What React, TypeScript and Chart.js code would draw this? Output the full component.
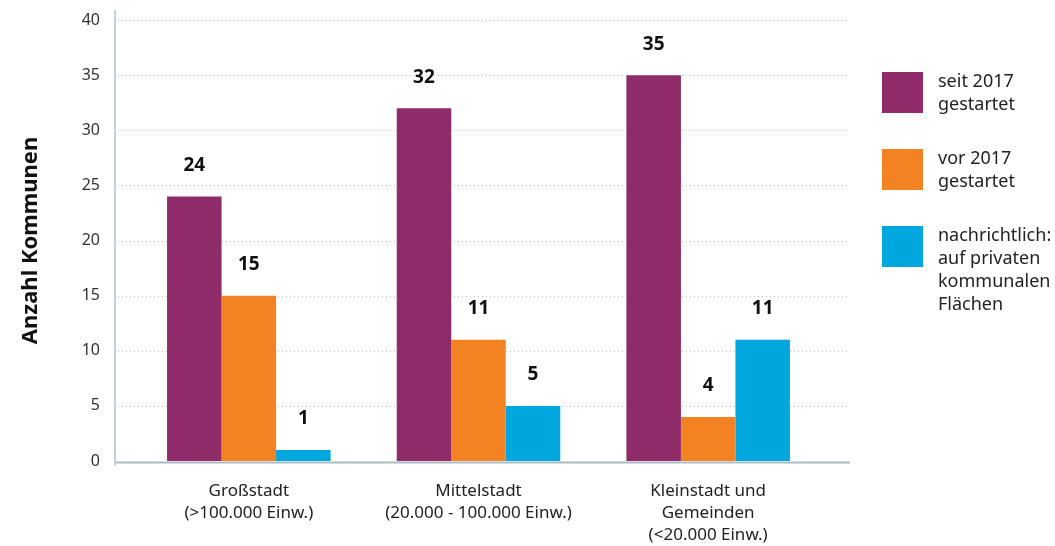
import React, { useEffect, useRef } from "react";
import { Chart, registerables } from "chart.js";

Chart.register(...registerables);

const categories: string[][] = [
  ["Großstadt", "(>100.000 Einw.)"],
  ["Mittelstadt", "(20.000 - 100.000 Einw.)"],
  ["Kleinstadt und", "Gemeinden", "(<20.000 Einw.)"],
];
const seriesLabels: string[][] = [
  ["seit 2017", "gestartet"],
  ["vor 2017", "gestartet"],
  ["nachrichtlich:", "auf privaten", "kommunalen", "Flächen"],
];
const seit2017: number[] = [24, 32, 35];
const vor2017: number[] = [15, 11, 4];
const nachrichtlich: number[] = [1, 5, 11];
const yTicks: number[] = [0, 5, 10, 15, 20, 25, 30, 35, 40];
const yTitle = "Anzahl Kommunen";

const COLORS = ["#8F2B68", "#F38322", "#00A7DE"];
const FONT = "'Noto Sans', sans-serif";

const axesPlugin = {
  id: "customAxes",
  beforeDatasetsDraw(chart: any) {
    const { ctx } = chart;
    const y = chart.scales.y;
    const left = 115;
    const right = 850;
    ctx.save();
    ctx.strokeStyle = "#B8BEC4";
    ctx.lineWidth = 1;
    ctx.setLineDash([1, 3]);
    yTicks.forEach((v) => {
      if (v === 0) return;
      const py = Math.round(y.getPixelForValue(v)) + 0.5;
      ctx.beginPath();
      ctx.moveTo(left + 3, py);
      ctx.lineTo(right, py);
      ctx.stroke();
    });
    ctx.setLineDash([]);
    ctx.strokeStyle = "#A9BCC6";
    ctx.lineWidth = 2;
    const y0 = y.getPixelForValue(0) + 1.5;
    ctx.beginPath();
    ctx.moveTo(left - 1, y0);
    ctx.lineTo(right, y0);
    ctx.stroke();
    ctx.strokeStyle = "#C4D0D8";
    ctx.beginPath();
    ctx.moveTo(left, y.getPixelForValue(40) - 10);
    ctx.lineTo(left, y0 + 3);
    ctx.stroke();
    ctx.restore();
  },
};

const labelsPlugin = {
  id: "valueLabels",
  afterDatasetsDraw(chart: any) {
    const { ctx } = chart;
    ctx.save();
    ctx.font = `bold 19px ${FONT}`;
    ctx.fillStyle = "#111";
    ctx.textAlign = "center";
    ctx.textBaseline = "middle";
    chart.data.datasets.forEach((ds: any, di: number) => {
      const meta = chart.getDatasetMeta(di);
      meta.data.forEach((bar: any, i: number) => {
        ctx.fillText(String(ds.data[i]), bar.x, bar.y - 31);
      });
    });
    ctx.restore();
  },
};

export default function App() {
  const ref = useRef<HTMLCanvasElement>(null);
  useEffect(() => {
    document.body.style.margin = "0";
    const chart = new Chart(ref.current!, {
      type: "bar",
      data: {
        labels: categories,
        datasets: [
          { label: seriesLabels[0].join(" "), data: seit2017, backgroundColor: COLORS[0] },
          { label: seriesLabels[1].join(" "), data: vor2017, backgroundColor: COLORS[1] },
          { label: seriesLabels[2].join(" "), data: nachrichtlich, backgroundColor: COLORS[2] },
        ],
      },
      options: {
        animation: false,
        responsive: false,
        layout: { padding: { top: 20, right: 232, left: 0, bottom: 0 } },
        plugins: { legend: { display: false }, tooltip: { enabled: false } },
        datasets: { bar: { categoryPercentage: 0.712, barPercentage: 1 } },
        scales: {
          x: {
            grid: { display: false, drawTicks: false },
            border: { display: false },
            ticks: {
              color: "#222",
              font: { family: FONT, size: 17, lineHeight: 1.3 },
              padding: 19,
              maxRotation: 0,
              autoSkip: false,
            },
            afterFit(scale: any) {
              scale.height = 85;
            },
          },
          y: {
            min: 0,
            max: 40,
            grid: { display: false, drawTicks: true, tickLength: 34 },
            border: { display: false },
            ticks: {
              stepSize: 5,
              color: "#333",
              font: { family: FONT, size: 16 },
              padding: 0,
            },
            title: {
              display: true,
              text: yTitle,
              color: "#111",
              font: { family: FONT, size: 22, weight: "bold" },
              padding: { top: 18, bottom: 0 },
            },
            afterFit(scale: any) {
              scale.width = 134;
            },
          },
        },
      },
      plugins: [axesPlugin, labelsPlugin],
    });
    return () => chart.destroy();
  }, []);

  const boxTops = [72, 149, 226];
  return (
    <div style={{ position: "relative", width: 1055, height: 546, fontFamily: FONT }}>
      <canvas ref={ref} width={1055} height={546} style={{ display: "block" }} />
      {seriesLabels.map((lines, i) => (
        <div key={i} style={{ position: "absolute", left: 882, top: boxTops[i], display: "flex" }}>
          <div style={{ width: 41, height: 41, background: COLORS[i] }} />
          <div style={{ marginLeft: 15, marginTop: -3, fontSize: 18, lineHeight: "23px", color: "#222" }}>
            {lines.map((l, j) => (
              <div key={j}>{l}</div>
            ))}
          </div>
        </div>
      ))}
    </div>
  );
}
